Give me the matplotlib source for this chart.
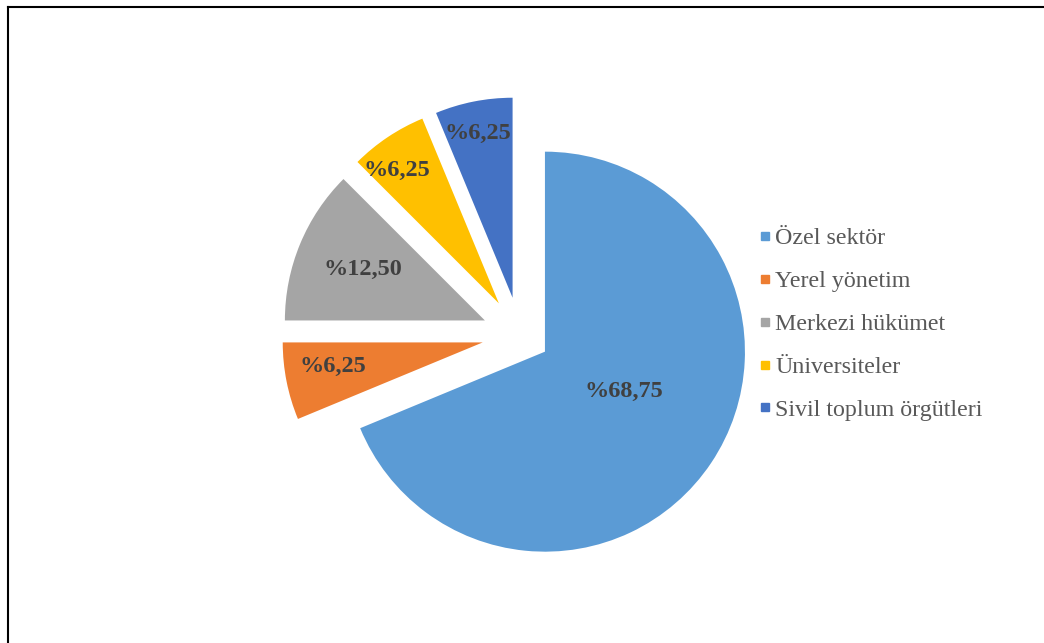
import matplotlib as mpl
mpl.use("agg")
import matplotlib.pyplot as plt
import numpy as np
from matplotlib.lines import Line2D

# data
categories = ['Özel sektör', 'Yerel yönetim', 'Merkezi hükümet', 'Üniversiteler', 'Sivil toplum örgütleri']
shares = [68.75, 6.25, 12.50, 6.25, 6.25]
labels = ['%68,75', '%6,25', '%12,50', '%6,25', '%6,25']
colors = ['#5B9BD5', '#ED7D31', '#A5A5A5', '#FFC000', '#4472C4']
explode = [0.15, 0.19, 0.19, 0.19, 0.19]
# label placement inside each wedge (radius fraction, angle nudge in degrees)
label_dist = [0.44, 0.76, 0.66, 0.84, 0.84]
label_turn = [6.8, -2.3, 0.0, 3.7, 0.6]

fig = plt.figure(figsize=(10.44, 6.43), dpi=100)
# axes square, 200 px per unit
ax = fig.add_axes([220/1044, 8/643, 600/1044, 600/643])

wedges, _ = ax.pie(shares, colors=colors, explode=explode, startangle=90,
                   counterclock=False, radius=1.0,
                   wedgeprops=dict(linewidth=0))
ax.set_xlim(-1.5, 1.5)
ax.set_ylim(-1.5, 1.5)
ax.set_aspect('equal')
ax.axis('off')

for w, lab, ld, lt in zip(wedges, labels, label_dist, label_turn):
    ang = np.deg2rad((w.theta1 + w.theta2) / 2 + lt)
    cx, cy = w.center
    ax.text(cx + ld*np.cos(ang), cy + ld*np.sin(ang), lab,
            ha='center', va='center', fontsize=17.5, fontweight='bold',
            family='Liberation Serif', color='#404040')

handles = [Line2D([], [], marker='s', ls='', color=c, markersize=5.5) for c in colors]
fig.legend(handles, categories, loc='center left', bbox_to_anchor=(0.707, 0.496),
           frameon=False, prop={'family': 'Liberation Serif', 'size': 17.3},
           labelcolor='#595959', handlelength=0.4, handletextpad=0.25,
           labelspacing=0.88)

# outer frame (left and top edges)
fig.add_artist(Line2D([8/1044, 8/1044], [0, 1 - 7/643], transform=fig.transFigure,
                      color='black', linewidth=1.5))
fig.add_artist(Line2D([8/1044, 1], [1 - 7/643, 1 - 7/643], transform=fig.transFigure,
                      color='black', linewidth=1.5))

plt.savefig('out.png', dpi=100)
